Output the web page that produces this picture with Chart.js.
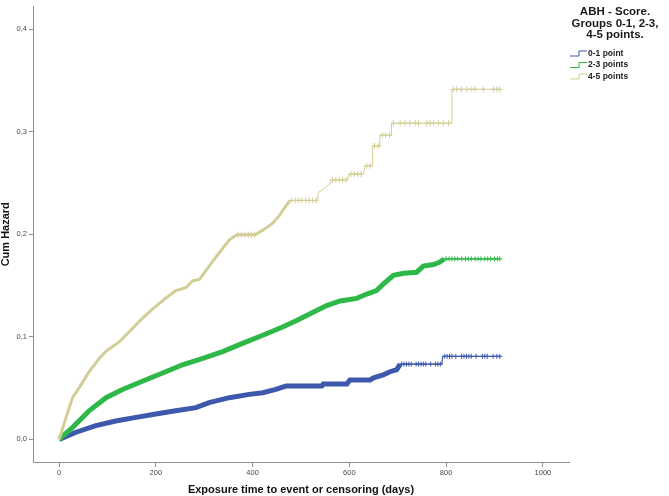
<!DOCTYPE html>
<html>
<head>
<meta charset="utf-8">
<script src="https://cdn.jsdelivr.net/npm/chart.js@4/dist/chart.umd.min.js"></script>
<style>
  html, body { margin: 0; padding: 0; background: #ffffff; }
  #wrap { width: 669px; height: 496px; }
</style>
</head>
<body>
<div id="wrap"><canvas id="c" width="669" height="496"></canvas></div>
<script>
// ---- Data ----
const seriesNames = ['0-1 point', '2-3 points', '4-5 points'];
const legendTitle = ['ABH - Score.', 'Groups 0-1, 2-3,', '4-5 points.'];
const xTitle = 'Exposure time to event or censoring (days)';
const yTitle = 'Cum Hazard';
const xTicks = [0, 200, 400, 600, 800, 1000];
const yTicks = [0.0, 0.1, 0.2, 0.3, 0.4];

// 0-1 point (blue)
const blueDays = [0, 35, 76, 117, 159, 200, 241, 283, 310, 352, 393, 421, 448, 469, 543, 546, 595, 601, 643, 650, 670, 684, 698, 705, 791, 793, 913];
const blueHaz  = [0, 0.007, 0.0135, 0.018, 0.0215, 0.0247, 0.0279, 0.031, 0.0359, 0.0407, 0.0439, 0.0455, 0.0487, 0.052, 0.052, 0.054, 0.054, 0.058, 0.058, 0.060, 0.063, 0.066, 0.068, 0.0734, 0.0734, 0.081, 0.081];

// 2-3 points (green)
const greenDays = [0, 28, 62, 97, 131, 172, 214, 255, 297, 338, 379, 421, 462, 491, 525, 553, 581, 615, 636, 656, 670, 691, 712, 739, 753, 774, 787, 796, 911];
const greenHaz  = [0, 0.0118, 0.0279, 0.0407, 0.0487, 0.0567, 0.0647, 0.0728, 0.0791, 0.0856, 0.0936, 0.1016, 0.1096, 0.116, 0.124, 0.1305, 0.135, 0.1375, 0.1417, 0.145, 0.1513, 0.16, 0.162, 0.163, 0.169, 0.1705, 0.1728, 0.176, 0.176];

// 4-5 points (tan)
const tanDays = [0, 14, 28, 41, 62, 83, 97, 124, 145, 172, 193, 221, 241, 262, 276, 290, 310, 331, 352, 367, 405, 421, 441, 456, 462, 477, 533, 536, 547, 560, 563, 594, 601, 629, 632, 648, 648, 663, 663, 687, 687, 812, 812, 911];
const tanHaz  = [0, 0.021, 0.041, 0.050, 0.066, 0.079, 0.086, 0.095, 0.105, 0.118, 0.127, 0.138, 0.145, 0.148, 0.1545, 0.156, 0.169, 0.182, 0.1945, 0.1995, 0.1995, 0.204, 0.2106, 0.2186, 0.223, 0.233, 0.233, 0.241, 0.244, 0.249, 0.253, 0.253, 0.2587, 0.2587, 0.2667, 0.2667, 0.286, 0.286, 0.2965, 0.2965, 0.3083, 0.3083, 0.3413, 0.3413];

// censoring marks (+)
const blueCensorDays = [708, 713, 718, 723, 728, 738, 743, 748, 753, 758, 768, 778, 783, 788, 797, 802, 807, 812, 820, 832, 837, 842, 847, 852, 862, 875, 880, 885, 897, 905, 911];
const blueCensorHaz  = [0.0734, 0.0734, 0.0734, 0.0734, 0.0734, 0.0734, 0.0734, 0.0734, 0.0734, 0.0734, 0.0734, 0.0734, 0.0734, 0.0734, 0.081, 0.081, 0.081, 0.081, 0.081, 0.081, 0.081, 0.081, 0.081, 0.081, 0.081, 0.081, 0.081, 0.081, 0.081, 0.081, 0.081];
const greenCensorDays = [800, 806, 812, 818, 824, 832, 840, 846, 852, 860, 866, 872, 880, 886, 892, 900, 906, 911];
const greenCensorHaz  = [0.176, 0.176, 0.176, 0.176, 0.176, 0.176, 0.176, 0.176, 0.176, 0.176, 0.176, 0.176, 0.176, 0.176, 0.176, 0.176, 0.176, 0.176];
const tanCensorDays = [370, 377, 384, 391, 398, 404, 480, 488, 495, 502, 510, 517, 524, 531, 565, 572, 579, 586, 593, 603, 610, 617, 624, 636, 643, 652, 660, 668, 675, 683, 691, 705, 715, 725, 736, 743, 760, 767, 774, 784, 794, 805, 815, 822, 832, 843, 853, 860, 877, 898, 905, 911];
const tanCensorHaz  = [0.1995, 0.1995, 0.1995, 0.1995, 0.1995, 0.1995, 0.233, 0.233, 0.233, 0.233, 0.233, 0.233, 0.233, 0.233, 0.253, 0.253, 0.253, 0.253, 0.253, 0.2587, 0.2587, 0.2587, 0.2587, 0.2667, 0.2667, 0.286, 0.286, 0.2965, 0.2965, 0.2965, 0.3083, 0.3083, 0.3083, 0.3083, 0.3083, 0.3083, 0.3083, 0.3083, 0.3083, 0.3083, 0.3083, 0.3083, 0.3413, 0.3413, 0.3413, 0.3413, 0.3413, 0.3413, 0.3413, 0.3413, 0.3413, 0.3413];

// ---- Styling ----
const COLORS = ['#3e58ac', '#2eb848', '#d3ce97'];
const FONT = '"Liberation Sans", Arial, sans-serif';
const AXIS_COLOR = '#8f8f8f';

const pts = (xs, ys) => xs.map((x, i) => ({ x: x, y: ys[i] }));

function lineDataset(label, xs, ys, color, thick, thin, thickUntil) {
  return {
    label: label,
    data: pts(xs, ys),
    borderColor: color,
    backgroundColor: color,
    borderWidth: thick,
    pointRadius: 0,
    tension: 0,
    fill: false,
    borderJoinStyle: 'miter',
    segment: {
      borderWidth: ctx => (ctx.p0.parsed.x < thickUntil ? thick : thin)
    }
  };
}
function censorDataset(xs, ys, color, r) {
  return {
    label: '_censor',
    data: pts(xs, ys),
    showLine: false,
    pointStyle: 'cross',
    pointRadius: r,
    pointBorderWidth: 1,
    borderColor: color,
    backgroundColor: color
  };
}

const legendPlugin = {
  id: 'spssLegend',
  afterDraw(chart) {
    const ctx = chart.ctx;
    ctx.save();
    ctx.fillStyle = '#1a1a1a';
    ctx.textAlign = 'center';
    ctx.textBaseline = 'middle';
    ctx.font = 'bold 11.5px ' + FONT;
    const ty = [12, 23.5, 35];
    legendTitle.forEach((t, i) => ctx.fillText(t, 615, ty[i]));
    const iy = [53.5, 65, 76.5];
    ctx.font = 'bold 8.5px ' + FONT;
    ctx.textAlign = 'left';
    seriesNames.forEach((n, i) => {
      const y = iy[i];
      ctx.strokeStyle = COLORS[i];
      ctx.lineWidth = 1;
      ctx.beginPath();
      ctx.moveTo(570, y + 2.5);
      ctx.lineTo(579, y + 2.5);
      ctx.lineTo(579, y - 2.5);
      ctx.lineTo(587, y - 2.5);
      ctx.stroke();
      ctx.fillStyle = '#222222';
      ctx.fillText(n, 588, y);
    });
    ctx.restore();
  }
};

new Chart(document.getElementById('c'), {
  type: 'line',
  data: {
    datasets: [
      lineDataset(seriesNames[2], tanDays, tanHaz, COLORS[2], 3, 1, 477),
      lineDataset(seriesNames[1], greenDays, greenHaz, COLORS[1], 5, 1.2, 796),
      lineDataset(seriesNames[0], blueDays, blueHaz, COLORS[0], 5, 1.2, 705),
      censorDataset(tanCensorDays, tanCensorHaz, COLORS[2], 3),
      censorDataset(greenCensorDays, greenCensorHaz, COLORS[1], 2.5),
      censorDataset(blueCensorDays, blueCensorHaz, COLORS[0], 2.5)
    ]
  },
  options: {
    responsive: false,
    animation: false,
    devicePixelRatio: 1,
    layout: { padding: { left: 0, right: 100, top: 0, bottom: 0 } },
    plugins: { legend: { display: false }, tooltip: { enabled: false } },
    scales: {
      x: {
        type: 'linear',
        min: -54,
        max: 1054,
        afterFit: s => { s.height = 34; },
        afterBuildTicks: s => { s.ticks = xTicks.map(v => ({ value: v })); },
        ticks: {
          includeBounds: false,
          autoSkip: false,
          maxRotation: 0,
          padding: 1,
          color: '#4a4a4a',
          font: { family: FONT, size: 7.5 },
          callback: v => String(v)
        },
        grid: { display: true, drawOnChartArea: false, drawTicks: true, tickLength: 5, color: AXIS_COLOR, lineWidth: 1 },
        border: { display: true, color: AXIS_COLOR, width: 1 },
        title: {
          display: true,
          text: xTitle,
          color: '#111111',
          font: { family: FONT, size: 11, weight: 'bold', lineHeight: 1 },
          padding: { top: 0, bottom: 0.5 }
        }
      },
      y: {
        type: 'linear',
        min: -0.022,
        max: 0.422,
        afterFit: s => { s.width = 33; },
        afterBuildTicks: s => { s.ticks = yTicks.map(v => ({ value: v })); },
        ticks: {
          includeBounds: false,
          autoSkip: false,
          padding: 2,
          color: '#4a4a4a',
          font: { family: FONT, size: 7.5 },
          callback: v => v.toFixed(1).replace('.', ',')
        },
        grid: { display: true, drawOnChartArea: false, drawTicks: true, tickLength: 4, color: AXIS_COLOR, lineWidth: 1 },
        border: { display: true, color: AXIS_COLOR, width: 1 },
        title: {
          display: true,
          text: yTitle,
          color: '#111111',
          font: { family: FONT, size: 11, weight: 'bold', lineHeight: 1 },
          padding: { top: 0.5, bottom: 0 }
        }
      }
    }
  },
  plugins: [legendPlugin]
});
</script>
</body>
</html>
